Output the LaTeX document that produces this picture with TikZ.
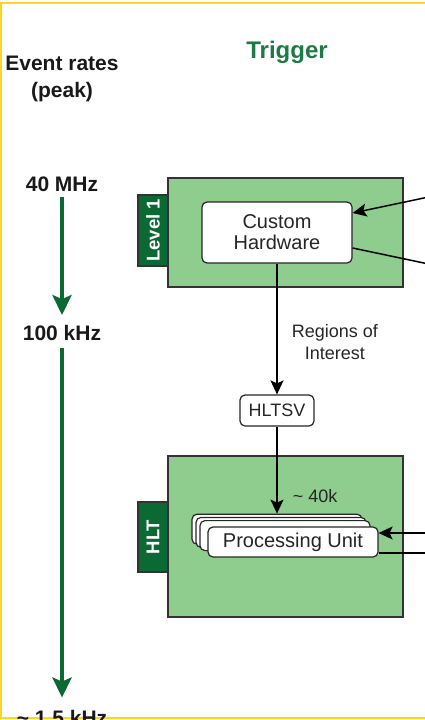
\documentclass[tikz,border=0pt]{standalone}
\usepackage{fontspec}
\setmainfont{Liberation Sans}
\usetikzlibrary{arrows.meta}

\definecolor{lightgreen}{HTML}{8FCD8F}
\definecolor{darkgreen}{HTML}{0B6A34}
\definecolor{titlegreen}{HTML}{1E7A45}
\definecolor{framegold}{HTML}{FFD42A}

\begin{document}
\begin{tikzpicture}[x=1pt, y=-1pt, every node/.style={align=center, inner sep=0pt},
stage/.style={draw=black!80, line width=1.4pt, fill=lightgreen},
tab/.style={draw=black!80, line width=1.4pt, fill=darkgreen, text=white, rotate=90,
  font=\fontsize{18.5}{20}\selectfont\bfseries, minimum height=30pt},
box/.style={draw=black!85, line width=1.2pt, fill=white, rounded corners=5pt,
  font=\fontsize{20}{21}\selectfont, text=black!85},
rate/.style={font=\fontsize{21}{27}\selectfont\bfseries, text=black!90},
label/.style={font=\fontsize{18}{22}\selectfont, text=black!85},
ratearrow/.style={draw=darkgreen, line width=4pt, -{Stealth[length=20pt, width=19pt, inset=4pt]}},
link/.style={line width=1.5pt, -{Stealth[length=14pt, width=13pt, inset=3pt]}},
wire/.style={line width=1.5pt}]
\useasboundingbox (0,0) rectangle (424,720);
\draw[framegold, line width=2pt] (1,3) rectangle (440,718);

\node[rate] (rates) at (62,79) {Event rates\\(peak)};
\node[font=\fontsize{24}{25}\selectfont\bfseries, text=titlegreen] (trig) at (287,52) {Trigger};
\node[rate] (r40) at (62,184) {40 MHz};
\node[rate] (r100) at (62,333) {100 kHz};
\node[rate] (r15) at (62,717.5) {\textasciitilde{} 1.5 kHz};
\draw[ratearrow, shorten <=5pt, shorten >=10pt] (r40) -- (r100);
\draw[ratearrow, shorten <=7pt, shorten >=12pt] (r100) -- (r15);

\node[stage, minimum width=235pt, minimum height=109pt] (lvl1) at (285.5,232.5) {};
\node[tab, minimum width=71pt] (lvl1tab) at (153,230.5) {Level 1};
\node[box, minimum width=150pt, minimum height=61pt] (hw) at (277,232.5) {Custom\\Hardware};
\node[box, font=\fontsize{18}{20}\selectfont, minimum width=74pt, minimum height=31pt] (hltsv) at (277,410.5) {HLTSV};

\node[stage, minimum width=235pt, minimum height=161pt] (hlt) at (285.5,536.5) {};
\node[tab, minimum width=70pt] (hlttab) at (153,537) {HLT};
\foreach \d/\n in {16/3,12/2,8/1}
  \node[box, minimum width=170pt, minimum height=30pt] (pu\n) at (293-\d,542-0.8*\d) {};
\node[box, minimum width=170pt, minimum height=30pt] (pu) at (293,542) {Processing Unit};

\coordinate (hwin) at (430,196.7);
\coordinate (hwout) at (430,264.3);
\coordinate (puin) at (430,533);
\coordinate (puout) at (430,553);

\draw[link] (hwin) -- ([yshift=19.5pt]hw.east);
\draw[wire] ([yshift=-15.5pt]hw.east) -- (hwout);
\draw[link] (hw) -- node[label, pos=0.6, right=14pt] {Regions of\\Interest} (hltsv);
\draw[link] (hltsv) -- node[label, pos=0.8, right=15pt] {\textasciitilde{} 40k} (pu3);
\draw[link] (puin) -- ([yshift=9pt]pu.east);
\draw[wire] ([yshift=-11pt]pu.east) -- (puout);
\end{tikzpicture}
\end{document}
